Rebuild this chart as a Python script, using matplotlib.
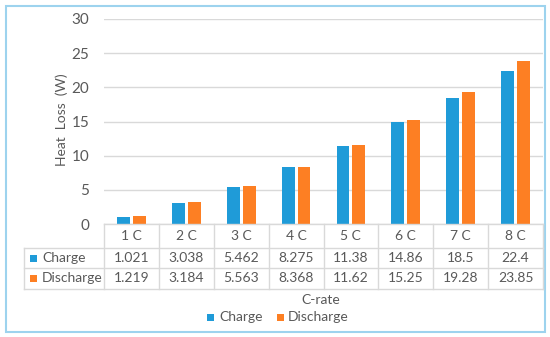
import matplotlib
matplotlib.use("Agg")
import matplotlib.pyplot as plt
from matplotlib.patches import Rectangle
import numpy as np

categories = ["1 C", "2 C", "3 C", "4 C", "5 C", "6 C", "7 C", "8 C"]
charge = [1.021, 3.038, 5.462, 8.275, 11.38, 14.86, 18.5, 22.4]
discharge = [1.219, 3.184, 5.563, 8.368, 11.62, 15.25, 19.28, 23.85]
charge_labels = ["1.021", "3.038", "5.462", "8.275", "11.38", "14.86", "18.5", "22.4"]
discharge_labels = ["1.219", "3.184", "5.563", "8.368", "11.62", "15.25", "19.28", "23.85"]
series_names = ["Charge", "Discharge"]
yticks = [0, 5, 10, 15, 20, 25, 30]

BLUE = "#1F9BD8"
ORANGE = "#FD7F23"
TXT = "#595959"
GRID = "#D9D9D9"

plt.rcParams['font.family'] = ['Lato', 'DejaVu Sans']

W, H = 550, 337
fig = plt.figure(figsize=(W / 100, H / 100), dpi=100)

def fx(px):
    return px / W

def fy(py):
    return 1 - py / H

XL, XR, YT, YB = 104, 543, 19, 224
ax = fig.add_axes([fx(XL), fy(YB), fx(XR) - fx(XL), fy(YT) - fy(YB)])
x = np.arange(len(categories))
bw = 0.235
off = 0.145
ax.bar(x - off, charge, bw, color=BLUE, label=series_names[0], zorder=3)
ax.bar(x + off, discharge, bw, color=ORANGE, label=series_names[1], zorder=3)
ax.set_xlim(-0.5, len(categories) - 0.5)
ax.set_ylim(0, 30)
ax.set_yticks(yticks)
ax.set_yticklabels([str(v) for v in yticks], fontsize=11, color=TXT)
ax.tick_params(axis='y', length=0, pad=10.5)
ax.set_xticks([])
for s in ax.spines.values():
    s.set_visible(False)
ax.yaxis.grid(True, color=GRID, lw=1, zorder=0)
ax.set_ylabel("Heat  Loss  (W)", fontsize=10, color=TXT)
ax.yaxis.set_label_coords((68 - XL) / (XR - XL), 0.51)

# overlay for table / frame
ov = fig.add_axes([0, 0, 1, 1], facecolor='none')
ov.set_xlim(0, W)
ov.set_ylim(H, 0)
ov.axis('off')

colw = (XR - XL) / len(categories)
r0, r1, r2, r3 = 224, 248, 268, 289
KL = 24
ov.plot([XL, XR], [r0, r0], color=GRID, lw=1)
for r in (r1, r2, r3):
    ov.plot([KL, XR], [r, r], color=GRID, lw=1)
for i in range(len(categories) + 1):
    xx = XL + i * colw
    ov.plot([xx, xx], [r0, r3], color=GRID, lw=1)
ov.plot([KL, KL], [r1, r3], color=GRID, lw=1)

for i, c in enumerate(categories):
    cx = XL + (i + 0.5) * colw
    ov.text(cx, (r0 + r1) / 2, c, ha='center', va='center', fontsize=10, color=TXT)
    ov.text(cx, (r1 + r2) / 2, charge_labels[i], ha='center', va='center', fontsize=10, color=TXT)
    ov.text(cx, (r2 + r3) / 2, discharge_labels[i], ha='center', va='center', fontsize=10, color=TXT)

for (ry0, ry1), name, col in (((r1, r2), series_names[0], BLUE), ((r2, r3), series_names[1], ORANGE)):
    cy = (ry0 + ry1) / 2
    ov.add_patch(Rectangle((30, cy - 3.5), 7, 7, color=col, lw=0))
    ov.text(42, cy, name, ha='left', va='center', fontsize=10, color=TXT)

ov.text((XL + XR) / 2 - 3, 300, "C-rate", ha='center', va='center', fontsize=10, color=TXT)

ov.add_patch(Rectangle((207, 317 - 3.5), 7, 7, color=BLUE, lw=0))
ov.text(219, 317, series_names[0], ha='left', va='center', fontsize=10, color=TXT)
ov.add_patch(Rectangle((277, 317 - 3.5), 7, 7, color=ORANGE, lw=0))
ov.text(288, 317, series_names[1], ha='left', va='center', fontsize=10, color=TXT)

ov.add_patch(Rectangle((6, 6), 539, 326, fill=False, edgecolor="#9DD3EE", lw=1.5))

fig.savefig("out.png", dpi=100)
